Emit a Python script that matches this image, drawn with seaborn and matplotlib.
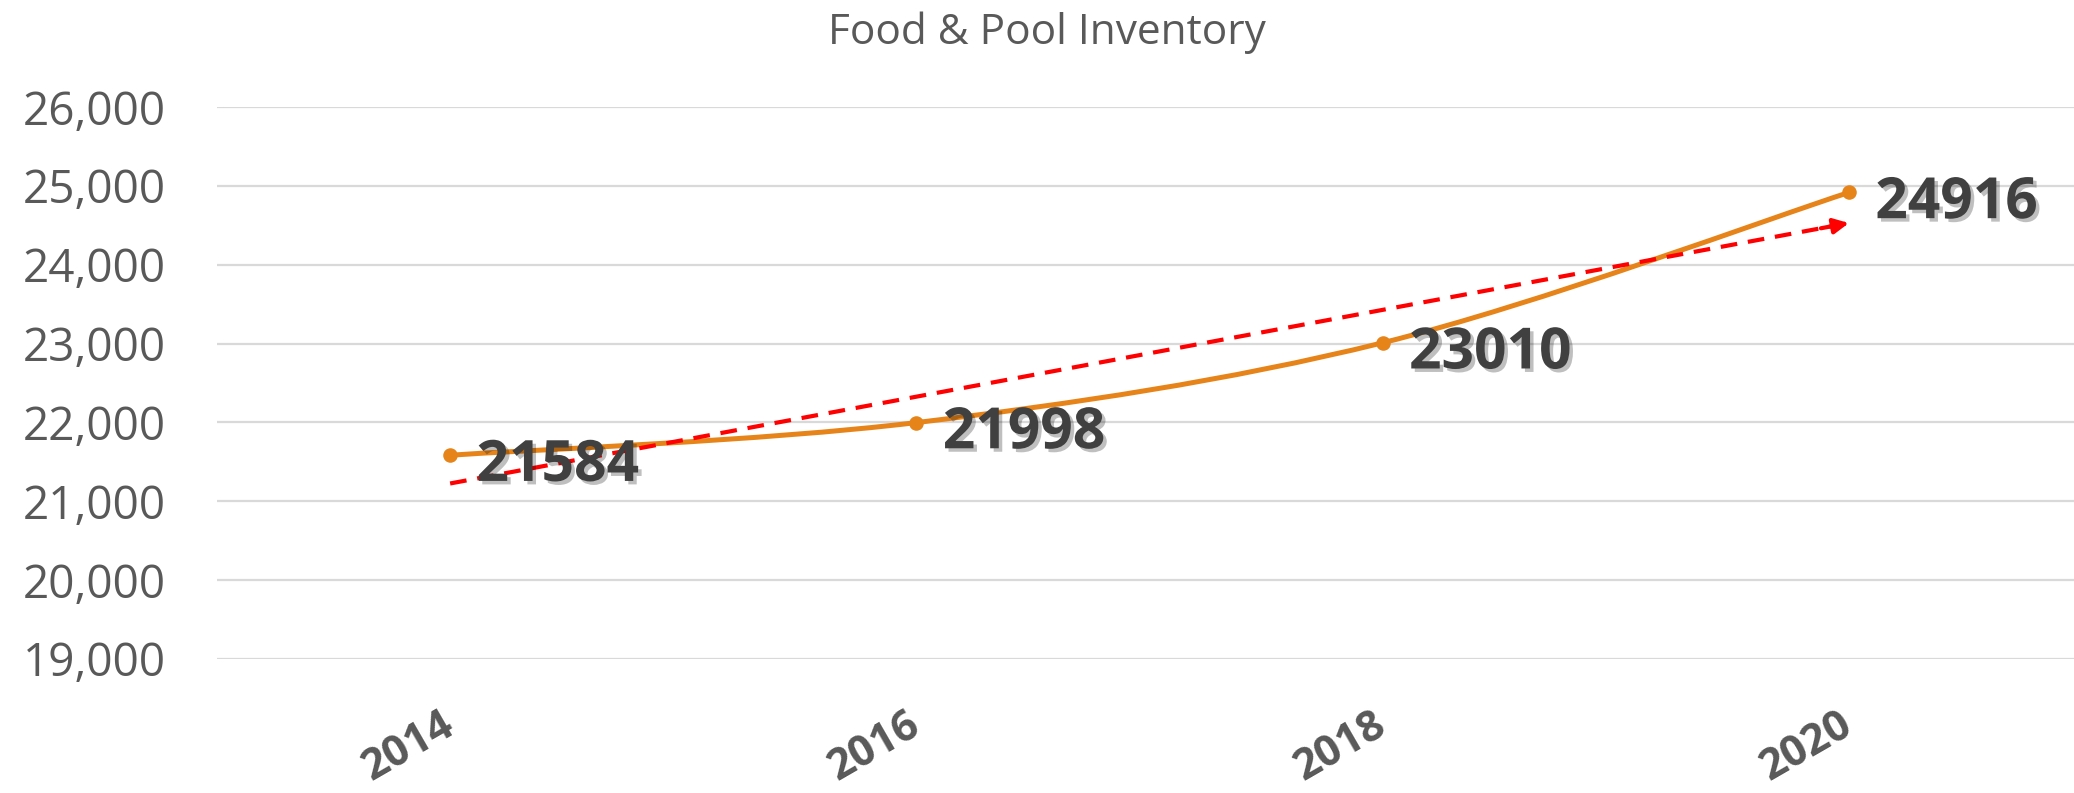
import numpy as np
import pandas as pd
import matplotlib
matplotlib.use("Agg")
import matplotlib.pyplot as plt
import matplotlib.patheffects as pe
from matplotlib.path import Path
from matplotlib.patches import PathPatch
from matplotlib.ticker import FuncFormatter
import seaborn as sns

# data
years = ["2014", "2016", "2018", "2020"]
inventory = [21584, 21998, 23010, 24916]

df = pd.DataFrame({"pos": np.arange(len(years)), "year": years, "inventory": inventory})

sns.set_style("white")
plt.rcParams["font.family"] = ["Open Sans", "DejaVu Sans"]

orange = "#E6841A"
grey_txt = "#595959"

fig = plt.figure(figsize=(20.74, 7.93), dpi=100)
ax = fig.add_axes([217 / 2074, 134 / 793, 1865 / 2074, 552 / 793])

# smooth line (excel style smoothing, bezier through the data points)
xs = df["pos"].to_numpy(float)
ys = df["inventory"].to_numpy(float)
pts = np.column_stack([xs, ys])
ext = np.vstack([pts[0], pts, pts[-1]])
verts = [tuple(pts[0])]
codes = [Path.MOVETO]
for i in range(len(pts) - 1):
    p0, p1, p2, p3 = ext[i], ext[i + 1], ext[i + 2], ext[i + 3]
    c1 = p1 + (p2 - p0) / 6
    c2 = p2 - (p3 - p1) / 6
    verts += [tuple(c1), tuple(c2), tuple(p2)]
    codes += [Path.CURVE4] * 3
ax.add_patch(PathPatch(Path(verts, codes), fill=False, edgecolor=orange, lw=3.6,
                       capstyle="round", zorder=3))

sns.scatterplot(data=df, x="pos", y="inventory", color=orange, s=110, edgecolor=orange,
                linewidth=0, zorder=4, ax=ax)

# linear trend line
slope, intercept = np.polyfit(xs, ys, 1)
trend = intercept + slope * xs
sns.lineplot(x=xs, y=trend, color="red", lw=3, ax=ax, zorder=5)
ax.lines[-1].set_dashes([4, 2.6])
ax.annotate("", xy=(xs[-1], trend[-1]), xytext=(xs[-1] - 0.06, trend[-1] - slope * 0.06),
            arrowprops=dict(arrowstyle="-|>,head_length=0.9,head_width=0.45", color="red",
                            lw=3, shrinkA=0, shrinkB=0), zorder=5)

# data labels
for x, y in zip(xs, ys):
    ax.annotate(f"{int(y)}", xy=(x, y), xytext=(19, -18.5), textcoords="offset points",
                ha="left", va="baseline", fontsize=41, fontweight="bold", color="#404040",
                zorder=6,
                path_effects=[pe.withSimplePatchShadow(offset=(2.5, -2.5), shadow_rgbFace="#000000",
                                                       alpha=0.25)])

ax.set_xlim(-0.5, 3.5)
ax.set_ylim(19000, 26000)
ax.set_yticks(np.arange(19000, 26001, 1000))
ax.yaxis.set_major_formatter(FuncFormatter(lambda v, p: f"{v:,.0f}"))
ax.set_xticks(xs)
ax.set_xticklabels(years)
ax.set_xlabel("")
ax.set_ylabel("")

ax.yaxis.grid(True, color="#D9D9D9", lw=1.6, zorder=0)
ax.xaxis.grid(False)
ax.set_axisbelow(True)
for s in ax.spines.values():
    s.set_visible(False)

ax.tick_params(axis="y", length=0, pad=37, labelsize=33, labelcolor=grey_txt)
ax.tick_params(axis="x", length=0, pad=45, labelsize=31, labelcolor=grey_txt)
for lab in ax.get_xticklabels():
    lab.set_rotation(30)
    lab.set_rotation_mode("anchor")
    lab.set_ha("right")
    lab.set_va("center")
    lab.set_fontweight("bold")

fig.text(0.505, 1 - 44 / 793, "Food & Pool Inventory", ha="center", va="baseline",
         fontsize=30.5, color=grey_txt)

fig.savefig("out.png", dpi=100)
